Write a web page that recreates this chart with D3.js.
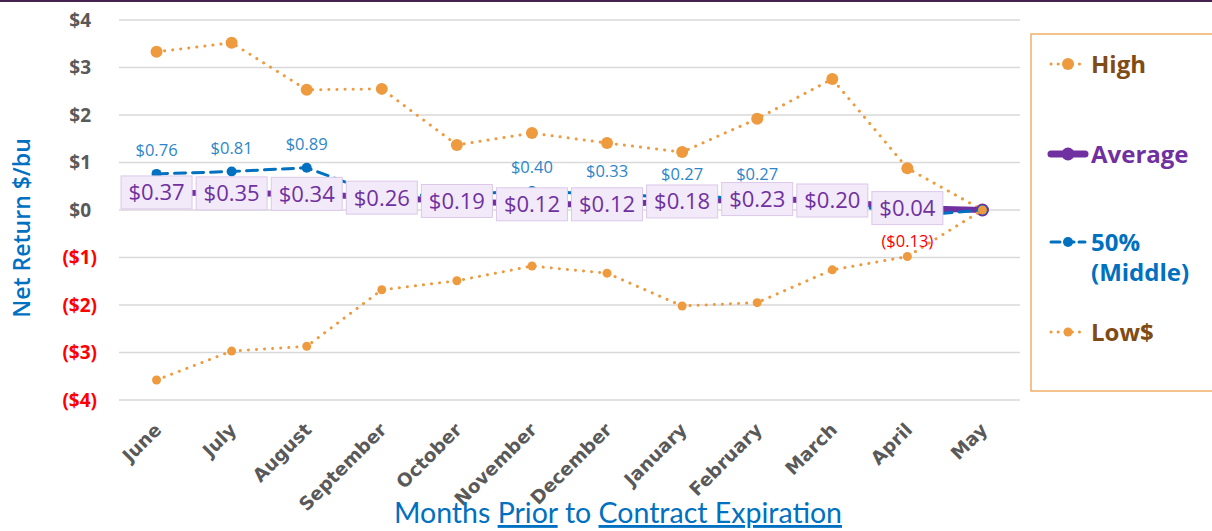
<!DOCTYPE html>
<html>
<head>
<meta charset="utf-8">
<script src="https://cdn.jsdelivr.net/npm/d3@7"></script>
<style>
  body { margin: 0; background: #fff; }
  svg { display: block; }
</style>
</head>
<body>
<div id="chart"></div>
<script>
// values
const months = ["June", "July", "August", "September", "October", "November",
  "December", "January", "February", "March", "April", "May"];
const high = [3.33, 3.52, 2.53, 2.55, 1.37, 1.62, 1.41, 1.22, 1.92, 2.76, 0.88, 0];
const average = [0.37, 0.35, 0.34, 0.26, 0.19, 0.12, 0.12, 0.18, 0.23, 0.20, 0.04, 0];
const middle = [0.76, 0.81, 0.89, 0.30, 0.33, 0.40, 0.33, 0.27, 0.27, 0.22, -0.13, 0];
const low = [-3.58, -2.97, -2.87, -1.68, -1.49, -1.18, -1.33, -2.02, -1.95, -1.26, -0.98, 0];
// which 50% points carry a label in the original
const middleLabelShown = [true, true, true, false, false, true, true, true, true, false, true, false];
const yTicks = [-4, -3, -2, -1, 0, 1, 2, 3, 4];

const ORANGE = "#ee9a3e";
const PURPLE = "#7030a0";
const BLUE = "#0070c0";
const LABEL_BLUE = "#2e86c8";
const BROWN = "#7f4c16";

const width = 1212;
const height = 531;

const svg = d3.select("#chart").append("svg")
  .attr("width", width)
  .attr("height", height);

// thin dark strip along the top edge
svg.append("rect")
  .attr("x", 0).attr("y", 0)
  .attr("width", width).attr("height", 2)
  .attr("fill", "#45234f");

const x = d3.scalePoint().domain(months).range([119, 1020]).padding(0.5);
const y = d3.scaleLinear().domain([-4, 4]).range([400, 20]);

const fmtDollar = (v) => (v < 0 ? `($${-v})` : `$${v}`);
const fmtCents = (v) => (v < 0 ? `($${(-v).toFixed(2)})` : `$${v.toFixed(2)}`);

// gridlines
svg.append("g")
  .selectAll("line")
  .data(yTicks)
  .join("line")
  .attr("x1", 119).attr("x2", 1020)
  .attr("y1", (d) => y(d)).attr("y2", (d) => y(d))
  .attr("stroke", "#d9d9d9")
  .attr("stroke-width", 1.5);

// y tick labels
svg.append("g")
  .selectAll("text")
  .data(yTicks)
  .join("text")
  .attr("x", (d) => (d < 0 ? 97 : 91))
  .attr("y", (d) => y(d))
  .attr("dy", "0.36em")
  .attr("text-anchor", "end")
  .attr("font-family", "'Open Sans', sans-serif")
  .attr("font-weight", "bold")
  .attr("font-size", 19)
  .attr("fill", (d) => (d < 0 ? "#ff0000" : "#595959"))
  .text(fmtDollar);

// x tick labels
svg.append("g")
  .selectAll("text")
  .data(months)
  .join("text")
  .attr("transform", (d) => `translate(${x(d) + 6},${431}) rotate(-45)`)
  .attr("text-anchor", "end")
  .attr("font-family", "'DejaVu Sans', sans-serif")
  .attr("font-weight", "bold")
  .attr("font-size", 18.5)
  .attr("fill", "#595959")
  .text((d) => d);

// axis titles
svg.append("text")
  .attr("transform", "translate(30,228) rotate(-90)")
  .attr("text-anchor", "middle")
  .attr("font-family", "'Open Sans', sans-serif")
  .attr("font-weight", 600)
  .attr("font-size", 23)
  .attr("fill", BLUE)
  .text("Net Return $/bu");

const xTitle = svg.append("text")
  .attr("x", 618)
  .attr("y", 523)
  .attr("text-anchor", "middle")
  .attr("font-family", "Lato, sans-serif")
  .attr("font-size", 28.5)
  .attr("fill", BLUE);
xTitle.append("tspan").text("Months ");
xTitle.append("tspan").attr("text-decoration", "underline").text("Prior");
xTitle.append("tspan").text(" to ");
xTitle.append("tspan").attr("text-decoration", "underline").text("Contract Expiration");

const line = d3.line()
  .x((d, i) => x(months[i]))
  .y((d) => y(d));

function drawSeries(values, opts) {
  const g = svg.append("g");
  g.append("path")
    .datum(values)
    .attr("d", line)
    .attr("fill", "none")
    .attr("stroke", opts.color)
    .attr("stroke-width", opts.width)
    .attr("stroke-linecap", "round")
    .attr("stroke-dasharray", opts.dash || null);
  g.selectAll("circle")
    .data(values)
    .join("circle")
    .attr("cx", (d, i) => x(months[i]))
    .attr("cy", (d) => y(d))
    .attr("r", opts.r)
    .attr("fill", opts.color);
}

drawSeries(high, { color: ORANGE, width: 3, dash: "0.1 8", r: 6 });
drawSeries(average, { color: PURPLE, width: 6, r: 6.5 });
drawSeries(middle, { color: BLUE, width: 3, dash: "11 7", r: 5 });
drawSeries(low, { color: ORANGE, width: 3, dash: "0.1 8", r: 4.5 });

// average data labels (boxed)
const avgLabels = svg.append("g")
  .selectAll("g")
  .data(average.slice(0, 11))
  .join("g")
  .attr("transform", (d, i) => `translate(${x(months[i])},${y(d)})`);
avgLabels.append("rect")
  .attr("x", -35.5).attr("y", -16.5)
  .attr("width", 71).attr("height", 33)
  .attr("fill", "#f2eaf8")
  .attr("stroke", "#dcc8ea")
  .attr("stroke-width", 1);
avgLabels.append("text")
  .attr("text-anchor", "middle")
  .attr("dy", "0.36em")
  .attr("font-family", "'Open Sans', sans-serif")
  .attr("font-size", 22)
  .attr("fill", PURPLE)
  .text(fmtCents);

// 50% data labels
svg.append("g")
  .selectAll("text")
  .data(middle.map((v, i) => ({ v, i })).filter((d) => middleLabelShown[d.i]))
  .join("text")
  .attr("x", (d) => x(months[d.i]))
  .attr("y", (d) => (d.v < 0 ? y(d.v) + 25 : y(d.v) - 23))
  .attr("dy", "0.33em")
  .attr("text-anchor", "middle")
  .attr("font-family", "'Open Sans', sans-serif")
  .attr("font-size", 16.5)
  .attr("fill", (d) => (d.v < 0 ? "#ff0000" : LABEL_BLUE))
  .text((d) => fmtCents(d.v));

// legend
const legend = svg.append("g");
legend.append("rect")
  .attr("x", 1031).attr("y", 34)
  .attr("width", 200).attr("height", 357)
  .attr("fill", "#fff")
  .attr("stroke", "#efae68")
  .attr("stroke-width", 1.5);

const legendItems = [
  { lines: ["High"], color: ORANGE, text: BROWN, width: 3, dash: "0.1 7", r: 6, y: 64 },
  { lines: ["Average"], color: PURPLE, text: PURPLE, width: 7, r: 6.5, y: 154 },
  { lines: ["50%", "(Middle)"], color: BLUE, text: BLUE, width: 3, dash: "9 5", r: 5, y: 242 },
  { lines: ["Low$"], color: ORANGE, text: BROWN, width: 3, dash: "0.1 7", r: 4.5, y: 332 },
];

legendItems.forEach((item) => {
  const g = legend.append("g");
  g.append("line")
    .attr("x1", 1051).attr("x2", 1085)
    .attr("y1", item.y).attr("y2", item.y)
    .attr("stroke", item.color)
    .attr("stroke-width", item.width)
    .attr("stroke-linecap", "round")
    .attr("stroke-dasharray", item.dash || null);
  g.append("circle")
    .attr("cx", 1068).attr("cy", item.y)
    .attr("r", item.r)
    .attr("fill", item.color);
  const t = g.append("text")
    .attr("x", 1091)
    .attr("y", item.y)
    .attr("font-family", "'Open Sans', sans-serif")
    .attr("font-weight", "bold")
    .attr("font-size", 24)
    .attr("fill", item.text);
  item.lines.forEach((l, i) => {
    t.append("tspan").attr("x", 1091).attr("dy", i === 0 ? "0.36em" : 30).text(l);
  });
});
</script>
</body>
</html>
